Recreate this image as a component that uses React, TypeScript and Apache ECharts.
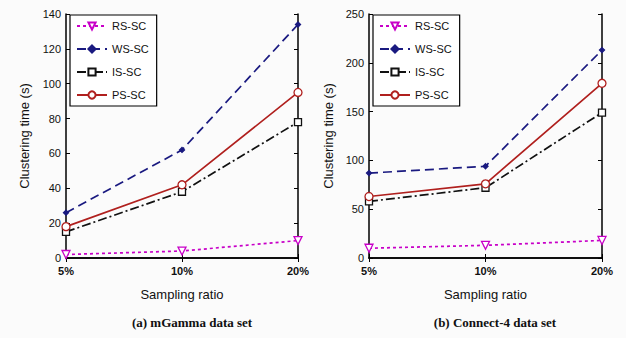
import React, { useEffect, useRef } from "react";
import * as echarts from "echarts";

const categories = ["5%", "10%", "20%"];
const seriesNames = ["RS-SC", "WS-SC", "IS-SC", "PS-SC"];

// (a) mGamma data set
const mGammaRS = [2, 4, 10];
const mGammaWS = [26, 62, 134];
const mGammaIS = [15, 38, 78];
const mGammaPS = [18, 42, 95];

// (b) Connect-4 data set
const connectRS = [10, 13, 18];
const connectWS = [87, 94, 213];
const connectIS = [58, 72, 149];
const connectPS = [63, 76, 179];

const yTicksA = [0, 20, 40, 60, 80, 100, 120, 140];
const yTicksB = [0, 50, 100, 150, 200, 250];

const captions = ["(a) mGamma data set", "(b) Connect-4 data set"];

const styles: Record<string, any> = {
  "RS-SC": { color: "#c800c8", type: [3, 3], symbol: "triangle", rotate: 180, size: 8, fill: "#ffffff" },
  "WS-SC": { color: "#1a1a80", type: [9, 5], symbol: "diamond", rotate: 0, size: 5, fill: "#1a1a80" },
  "IS-SC": { color: "#111111", type: [9, 3, 2, 3], symbol: "rect", rotate: 0, size: 7, fill: "#ffffff" },
  "PS-SC": { color: "#b0201e", type: "solid", symbol: "circle", rotate: 0, size: 8, fill: "#ffffff" },
};

function makeSeries(name: string, data: number[], idx: number) {
  const s = styles[name];
  return {
    type: "line",
    name,
    xAxisIndex: idx * 2,
    yAxisIndex: idx * 2,
    data,
    symbol: s.symbol,
    symbolRotate: s.rotate,
    symbolSize: s.size,
    showSymbol: true,
    lineStyle: { color: s.color, width: 1.7, type: s.type },
    itemStyle: { color: s.fill, borderColor: s.color, borderWidth: 1.3 },
    z: 3,
  };
}

const font = "Arial, 'Liberation Sans', sans-serif";

function xAxes(gi: number) {
  return [
    {
      type: "category",
      gridIndex: gi,
      data: categories,
      boundaryGap: false,
      position: "bottom",
      axisLine: { show: true, lineStyle: { color: "#000", width: 1.5 } },
      axisTick: { show: true, inside: true, length: 4, lineStyle: { color: "#000" } },
      axisLabel: { color: "#111", fontSize: 11, fontFamily: font, margin: 7, fontWeight: "bold" },
      name: "Sampling ratio",
      nameLocation: "middle",
      nameGap: 30,
      nameTextStyle: { color: "#111", fontSize: 13, fontFamily: font },
      splitLine: { show: false },
    },
    {
      type: "category",
      gridIndex: gi,
      data: categories,
      boundaryGap: false,
      position: "top",
      axisLine: { show: true, lineStyle: { color: "#000", width: 1.5 } },
      axisTick: { show: true, inside: true, length: 4, lineStyle: { color: "#000" } },
      axisLabel: { show: false },
      splitLine: { show: false },
    },
  ];
}

function yAxes(gi: number, ticks: number[]) {
  const interval = ticks[1] - ticks[0];
  const max = ticks[ticks.length - 1];
  return [
    {
      type: "value",
      gridIndex: gi,
      min: 0,
      max,
      interval,
      position: "left",
      axisLine: { show: true, lineStyle: { color: "#000", width: 1.5 } },
      axisTick: { show: true, inside: true, length: 4, lineStyle: { color: "#000" } },
      axisLabel: { color: "#111", fontSize: 11, fontFamily: font, margin: 5 },
      splitLine: { show: false },
      name: "Clustering time (s)",
      nameLocation: "middle",
      nameGap: gi === 0 ? 35 : 34,
      nameRotate: 90,
      nameTextStyle: { color: "#111", fontSize: 13, fontFamily: font },
    },
    {
      type: "value",
      gridIndex: gi,
      min: 0,
      max,
      interval,
      position: "right",
      axisLine: { show: true, lineStyle: { color: "#000", width: 1.5 } },
      axisTick: { show: true, inside: true, length: 4, lineStyle: { color: "#000" } },
      axisLabel: { show: false },
      splitLine: { show: false },
    },
  ];
}

function legend(left: number) {
  return {
    orient: "vertical",
    left,
    top: 15,
    data: seriesNames,
    itemWidth: 30,
    itemHeight: 9,
    itemGap: 12,
    padding: [5.5, 8, 5.5, 6],
    backgroundColor: "#ffffff",
    borderColor: "#000",
    borderWidth: 1.2,
    borderRadius: 0,
    textStyle: { color: "#111", fontSize: 11, fontFamily: font },
    selectedMode: false,
  };
}

export default function App() {
  const ref = useRef<HTMLDivElement>(null);
  useEffect(() => {
    if (!ref.current) return;
    const chart = echarts.init(ref.current, undefined, { renderer: "svg" });
    const option: any = {
      animation: false,
      backgroundColor: "#fbfbfb",
      grid: [
        { left: 66, right: 328, top: 14, bottom: 80, containLabel: false },
        { left: 369, right: 24, top: 14, bottom: 80, containLabel: false },
      ],
      xAxis: [...xAxes(0), ...xAxes(1)],
      yAxis: [...yAxes(0, yTicksA), ...yAxes(1, yTicksB)],
      legend: [legend(70), legend(373)],
      series: [
        makeSeries("RS-SC", mGammaRS, 0),
        makeSeries("WS-SC", mGammaWS, 0),
        makeSeries("IS-SC", mGammaIS, 0),
        makeSeries("PS-SC", mGammaPS, 0),
        makeSeries("RS-SC", connectRS, 1),
        makeSeries("WS-SC", connectWS, 1),
        makeSeries("IS-SC", connectIS, 1),
        makeSeries("PS-SC", connectPS, 1),
      ],
      graphic: [
        {
          type: "text",
          x: 192,
          y: 322,
          style: {
            text: captions[0],
            fill: "#111",
            font: "bold 13px 'Liberation Serif', 'Times New Roman', serif",
            textAlign: "center",
            textVerticalAlign: "middle",
          },
        },
        {
          type: "text",
          x: 495,
          y: 322,
          style: {
            text: captions[1],
            fill: "#111",
            font: "bold 13px 'Liberation Serif', 'Times New Roman', serif",
            textAlign: "center",
            textVerticalAlign: "middle",
          },
        },
      ],
    };
    chart.setOption(option);
    return () => chart.dispose();
  }, []);
  return (
    <div
      ref={ref}
      style={{ position: "fixed", left: 0, top: 0, width: 626, height: 338 }}
    />
  );
}
